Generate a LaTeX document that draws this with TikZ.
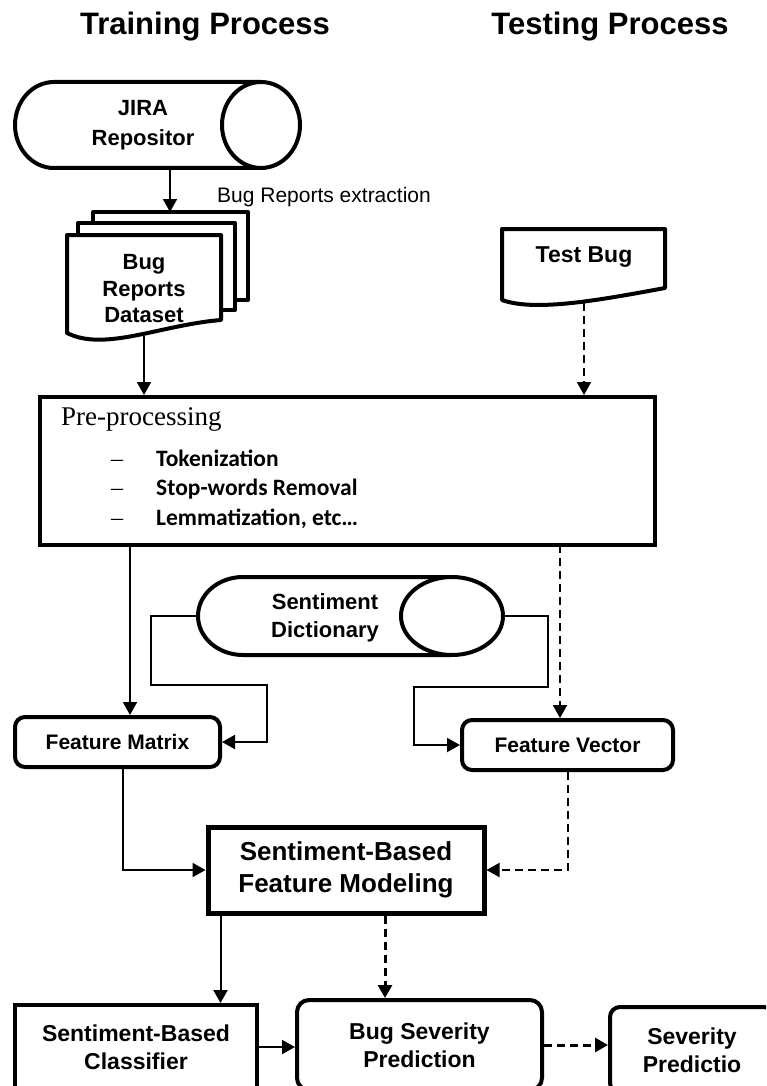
\documentclass[tikz,border=0pt]{standalone}
\usepackage{fontspec}
\setmainfont{Liberation Sans}
\newfontfamily\calibri{Carlito}
\newfontfamily\cambria{Liberation Serif}
\usetikzlibrary{arrows.meta, calc, positioning}

\begin{document}
\begin{tikzpicture}[x=1pt, y=-1pt,
	box/.style={draw, line width=4pt, align=center, inner sep=0pt, font=\bfseries\fontsize{23}{28}\selectfont},
	rbox/.style={box, rounded corners=10pt},
	lbl/.style={align=center, inner sep=0pt, font=\bfseries\fontsize{22}{28}\selectfont},
	shp/.style={line width=4pt, fill=white, line join=round},
	arr/.style={line width=2pt, -{Triangle[length=13pt,width=14pt]}},
	darr/.style={arr, dash pattern=on 8pt off 5pt},
	ttl/.style={anchor=base, font=\bfseries\fontsize{31}{31}\selectfont},
	item/.style={anchor=base west, inner sep=0pt, font=\calibri\bfseries\fontsize{23.5}{24}\selectfont}]
		\useasboundingbox (0,0) rectangle (766,1086);
		\clip (0,0) rectangle (766,1086);

		\node[ttl] (train) at (205,35) {Training Process};
		\node[ttl] (test) at (610,35) {Testing Process};

		% repository
		\draw [shp](261,82)--(54,82) arc[start angle=270, end angle=90, x radius=39, y radius=43]--(261,168);
		\draw [shp](261,125) ellipse[x radius=39, y radius=43];
		\node[lbl, font=\bfseries\fontsize{22}{30}\selectfont] (jira) at (143,125.5) {JIRA\\Repositor};
		\coordinate (jirab) at (170,168);

		% dataset
		\draw [shp](93,212) rectangle (248,300);
		\draw [shp](78,223) rectangle (235,310);
		\draw [shp](67,235)--(221,235)--(221,320) .. controls (160,325) and (105,352) .. (67,333)--cycle;
		\node[lbl, font=\bfseries\fontsize{22}{26.5}\selectfont] (ds) at (144,289) {Bug\\Reports\\Dataset};
		\coordinate (dst) at (170,212);
		\coordinate (dsb) at (144,336);
		\draw [arr](jirab)--(dst);
		\node[anchor=base west, inner sep=0pt, font=\fontsize{21}{21}\selectfont] (extr) at (217,202) {Bug Reports extraction};

		% test bug
		\draw [shp](502,229)--(665,229)--(665,288) .. controls (600,300) and (535,312) .. (502,300)--cycle;
		\node[lbl, font=\bfseries\fontsize{23}{28}\selectfont] (tb) at (584,257) {Test Bug};
		\coordinate (tbb) at (584,303);

		% pre-processing
		\node[draw, line width=4pt, minimum width=615, minimum height=148, inner sep=0pt] (pre) at (347.5,471) {};
		\node[anchor=base west, inner sep=0pt, font=\cambria\fontsize{27}{27}\selectfont] (pret) at (61,425) {Pre-processing};
		\foreach \y/\t [count=\i] in {466/Tokenization, 495/Stop-words Removal, 525/{Lemmatization, etc\ldots}} {
			\node[anchor=base west, inner sep=0pt, font=\cambria\fontsize{24}{24}\selectfont] (dash\i) at (111,\y) {\textendash};
			\node[item] (it\i) at (156,\y) {\t};
		}
		\draw [arr](dsb)--(dsb |- pre.north);
		\draw [darr](tbb)--(tbb |- pre.north);

		% sentiment dictionary
		\draw [shp](452,577)--(243,577) arc[start angle=270, end angle=90, x radius=45, y radius=39]--(452,655);
		\draw [shp](452,616) ellipse[x radius=51, y radius=39];
		\node[lbl] (sd) at (325,618) {Sentiment\\Dictionary};
		\coordinate (sdl) at (198,616);
		\coordinate (sdr) at (503,616);

		\node[rbox, minimum width=205, minimum height=50, font=\bfseries\fontsize{21}{21}\selectfont] (fm) at (117.5,742) {Feature Matrix};
		\node[rbox, minimum width=211, minimum height=50, font=\bfseries\fontsize{21}{21}\selectfont] (fv) at (567.5,745) {Feature Vector};

		\coordinate (pl) at (130,545);
		\coordinate (pr) at (560,545);
		\draw [arr](pl)--(pl |- fm.north);
		\draw [darr](pr)--(pr |- fv.north);
		\draw [arr](sdl)-|(151,685)-|($(fm.east)+(45,0)$)--(fm.east);
		\draw [arr](sdr)-|(548,687)-|($(fv.west)+(-46,0)$)--(fv.west);

		% modeling and prediction
		\node[box, line width=5pt, minimum width=276, minimum height=86, font=\bfseries\fontsize{26}{32}\selectfont] (sbfm) at (346,870) {Sentiment-Based\\Feature Modeling};
		\draw [arr]($(fm.south)+(5.5,0)$)|-(sbfm.west);
		\draw [darr](fv.south)|-(sbfm.east);

		\node[box, minimum width=242, minimum height=84] (cls) at (136,1047) {Sentiment-Based\\Classifier};
		\node[rbox, rounded corners=12pt, minimum width=245, minimum height=90] (bsp) at (419.5,1045) {Bug Severity\\Prediction};
		\node[rbox, minimum width=164, minimum height=86] (sev) at (692,1050) {Severity\\Predictio};

		\coordinate (ml) at ($(sbfm.south west)+(15,0)$);
		\coordinate (mr) at ($(sbfm.south)+(39,0)$);
		\draw [arr](ml)--(ml |- cls.north);
		\draw [darr, line width=3pt](mr)--(mr |- bsp.north);
		\draw [arr](cls.east)--(cls.east -| bsp.west);
		\draw [darr, line width=3pt](bsp.east)--(bsp.east -| sev.west);
	\end{tikzpicture}
\end{document}
